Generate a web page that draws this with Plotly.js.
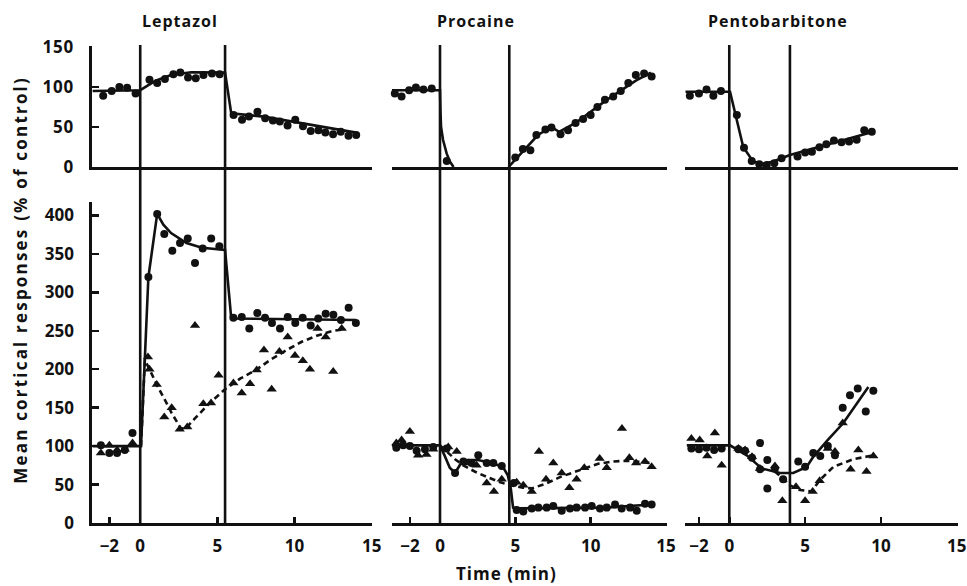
<!DOCTYPE html>
<html><head><meta charset="utf-8">
<script src="https://cdn.plot.ly/plotly-3.0.1.min.js"></script>
<style>
html,body{margin:0;padding:0;background:#fff}
#chart{width:967px;height:586px}
#chart .annotation-text{letter-spacing:1px}
#chart .annotation[data-index="3"] .annotation-text{letter-spacing:2.2px}
#chart .xtick text,#chart .ytick text{letter-spacing:0.8px}
</style>
</head><body><div id="chart"></div>
<script>
// ---------- panel titles & axis labels ----------
const panelTitles = ['Leptazol', 'Procaine', 'Pentobarbitone'];
const xTickVals = [-2, 0, 5, 10, 15];
const xTickText = ['\u22122', '0', '5', '10', '15'];
const yTopTickVals = [0, 50, 100, 150];
const yBotTickVals = [0, 50, 100, 150, 200, 250, 300, 350, 400];
const yTitle = 'Mean cortical responses (% of control)';
const xTitle = 'Time (min)';
const drugStart = [0, 0, 0];
const drugEnd = [5.5, 4.6, 4.0];

// ---------- Leptazol ----------
const leptTopT = [-2.4, -1.85, -1.35, -0.85, -0.3, 0.6, 1.1, 1.6, 2.15, 2.6, 3.1, 3.6, 4.1, 4.65, 5.15, 6.05, 6.6, 7.05, 7.6, 8.1, 8.6, 9.05, 9.55, 10.05, 10.55, 11.05, 11.55, 12.0, 12.5, 13.0, 13.5, 14.0];
const leptTopV = [89, 95, 100, 99, 92, 109, 105, 110, 116, 118, 112, 111, 115, 117, 116, 65, 59, 63, 69, 61, 58, 57, 52, 59, 51, 45, 46, 43, 41, 44, 39, 40];
const leptTopFitT = [-3.1, 0, 1, 2, 3.3, 5.5, 5.9, 8, 14];
const leptTopFitV = [95, 96, 108, 115, 118.5, 118, 67, 63, 43];

const leptBotCircT = [-2.55, -2.0, -1.5, -1.0, -0.5, 0.53, 1.1, 1.56, 2.08, 2.58, 3.08, 3.55, 4.05, 4.6, 5.13, 6.04, 6.58, 7.07, 7.59, 8.09, 8.54, 9.06, 9.56, 10.05, 10.53, 11.05, 11.54, 12.02, 12.52, 13.01, 13.51, 13.98];
const leptBotCircV = [101, 91, 91, 95, 117, 320, 402, 376, 354, 364, 370, 338, 357, 370, 360, 267, 268, 253, 273, 267, 260, 253, 268, 260, 267, 257, 266, 272, 271, 264, 280, 260];
const leptBotTriT = [-2.55, -2.0, -1.5, -1.0, -0.5, 0.5, 0.6, 1.07, 1.56, 2.04, 2.56, 3.05, 3.55, 4.09, 4.59, 5.08, 6.04, 6.58, 7.12, 7.55, 8.02, 8.52, 9.02, 9.56, 10.03, 10.54, 11.0, 11.5, 12.02, 12.51, 13.06];
const leptBotTriV = [91, 101, 95, 96, 104, 216, 200, 180, 138, 150, 122, 125, 257, 155, 156, 192, 182, 169, 181, 199, 225, 174, 223, 242, 218, 211, 200, 253, 242, 197, 253];
const leptBotFitT = [-3.1, 0.05, 0.53, 1.1, 1.5, 2, 3, 4, 5.5, 5.9, 14];
const leptBotFitV = [100, 100, 320, 402, 388, 377, 364, 358, 355, 266, 264];
const leptBotDashT = [0.05, 0.3, 0.6, 1.07, 1.6, 2.04, 2.6, 2.9, 3.5, 4.5, 5.5, 6.5, 7.5, 8.5, 9.5, 10.5, 11.5, 12.5, 13.3];
const leptBotDashV = [100, 212, 200, 180, 160, 143, 124, 122, 135, 156, 174, 188, 199, 213, 225, 236, 244, 250, 252];

// ---------- Procaine ----------
const procTopT = [-3.0, -2.55, -2.05, -1.6, -1.1, -0.55, 0.45, 5.0, 5.5, 6.0, 6.4, 7.0, 7.4, 8.0, 8.5, 9.0, 9.5, 10.0, 10.45, 10.95, 11.5, 12.0, 12.5, 13.0, 13.55, 14.05];
const procTopV = [92, 88, 96, 99.5, 97, 98, 7.5, 12, 22.5, 21, 40, 47, 49.5, 41, 46, 55, 60, 65, 75, 84, 88, 95, 105, 115, 117, 113];
const procTopFitT = [-3.2, 0, 0.03, 0.07, 0.2, 0.44, 0.65, 0.9, null, 4.55, 5.5, 6.5, 7.4, 7.9, 9, 11, 13, 14];
const procTopFitV = [96, 96, 70, 50, 34, 17, 7, 0, null, 0, 20, 40, 50, 44, 55, 83, 108, 118];

const procBotCircT = [-2.9, -2.45, -2.0, -1.55, -1.0, -0.45, 0.44, 1.0, 1.55, 2.1, 2.54, 3.1, 3.54, 4.1, 4.9, 5.09, 5.53, 6.09, 6.53, 7.08, 7.52, 8.08, 8.63, 9.07, 9.63, 10.07, 10.62, 11.07, 11.62, 12.06, 12.62, 13.06, 13.61, 14.05];
const procBotCircV = [98, 101, 100, 94, 96, 99, 97, 65, 80, 78, 88, 78, 78, 74, 52, 17, 15, 19, 20, 20, 22, 16, 19, 20, 20, 22, 19, 20, 24, 19, 20, 16, 25, 24];
const procBotTriT = [-2.9, -2.55, -2.0, -1.45, -0.9, -0.45, 0.55, 1.11, 1.88, 2.43, 3.1, 3.58, 4.1, 5.09, 5.53, 6.09, 6.57, 7.04, 7.52, 8.08, 8.59, 9.07, 9.58, 10.6, 11.07, 12.08, 12.57, 13.02, 13.61, 14.05];
const procBotTriV = [104, 108, 119, 88, 89, 96, 99, 93, 78, 75, 52, 41, 57, 53, 49, 41, 93, 57, 78, 65, 46, 57, 72, 84, 72, 123, 85, 78, 80, 73];
const procBotFitT = [-3.2, 0, 0.3, 0.65, 1.0, 1.4, 1.8, 2.5, 3.5, 4.2, 4.5, 4.7, 4.85, 5.2, 11, 14.05];
const procBotFitV = [101, 101, 88, 72, 65, 78, 82, 82, 78, 72, 62, 45, 20, 19, 20, 24];
const procBotDashT = [0, 0.5, 1, 1.55, 2.3, 3.1, 4, 4.65, 5.5, 6.1, 7, 8, 9, 9.6, 10.5, 11.5, 12.5, 13.5, 14];
const procBotDashV = [101, 92, 83, 75, 67, 60, 53, 49, 46, 45, 51, 60, 67, 71, 77, 80, 81, 79, 78];

// ---------- Pentobarbitone ----------
const pentTopT = [-2.6, -2.0, -1.5, -1.05, -0.55, 0.5, 0.97, 1.48, 1.98, 2.47, 2.97, 3.45, 4.5, 5.0, 5.45, 5.95, 6.4, 6.9, 7.4, 7.9, 8.4, 8.9, 9.4];
const pentTopV = [89, 92, 97, 89, 95, 65, 24, 7.5, 3.3, 2.5, 4.6, 10.8, 13, 18, 19, 24.6, 28.3, 33, 31, 32, 34, 46, 44];
const pentTopFitT = [-2.9, 0.05, 0.92, 1.58, 2.24, 2.9, 4.0, 9.5];
const pentTopFitV = [94, 94, 25, 6.7, 4, 7, 15, 44];

const pentBotCircT = [-2.5, -2.0, -1.5, -1.0, -0.5, 0.6, 1.04, 1.5, 2.03, 2.03, 2.51, 2.51, 3.01, 3.55, 4.55, 5.0, 5.54, 6.0, 6.5, 6.97, 7.48, 7.96, 8.47, 9.0, 9.5];
const pentBotCircV = [97, 96, 98, 95, 97, 96, 94, 85, 104, 70, 82, 45, 71, 57, 80, 73, 91, 87, 100, 88, 150, 166, 175, 145, 172];
const pentBotTriT = [-2.5, -1.95, -1.45, -0.95, -0.5, 0.6, 1.04, 1.5, 2.02, 3.01, 3.5, 4.4, 5.0, 5.5, 5.96, 6.5, 6.97, 7.48, 8.0, 8.51, 9.05, 9.5];
const pentBotTriV = [110, 108, 87, 117, 75, 97, 95, 86, 71, 74, 29, 47, 29, 41, 55, 97, 93, 130, 70, 95, 67, 87];
const pentBotFitT = [-2.8, 0.05, 1.15, 2.14, 3.35, 4.22, 5.1, 5.54, 6.5, 7.52, 9.17];
const pentBotFitV = [101, 101, 88, 71, 65, 65, 73, 86, 108, 130, 177];
const pentBotDashT = [3.0, 3.6, 4.0, 4.66, 5.43, 5.98, 6.86, 8.18, 9.5];
const pentBotDashV = [67, 57, 49, 43, 41, 56, 73, 83, 88];

// ---------- layout helpers ----------
const W = 967, H = 586;
const INK = '#111';
const FONT = '"Open Sans", Lato, sans-serif';
const px = p => p / W;
const py = p => 1 - p / H;

const colDom = [[px(92.4), px(372.4)], [px(391.8), px(666.7)], [px(685.3), px(957.5)]];
const colRange = [[-3.1, 15.05], [-3.2, 15.05], [-2.9, 15.05]];
const topDom = [py(167), py(46.2)];
const botDom = [py(523), py(201.6)];
const topRange = [0, 151];
const botRange = [0, 418];

const traces = [];
function pts(xa, ya, t, v, sym, size) {
  traces.push({x: t, y: v, xaxis: xa, yaxis: ya, mode: 'markers', type: 'scatter', cliponaxis: false,
    marker: {symbol: sym, size: size, color: INK, line: {width: 0}}, hoverinfo: 'skip'});
}
function ln(xa, ya, t, v, dash, w) {
  traces.push({x: t, y: v, xaxis: xa, yaxis: ya, mode: 'lines', type: 'scatter', cliponaxis: false,
    connectgaps: false, line: {color: INK, width: w || 2.6, dash: dash || 'solid'}, hoverinfo: 'skip'});
}

// top row
ln('x', 'y', leptTopFitT, leptTopFitV);
pts('x', 'y', leptTopT, leptTopV, 'circle', 8);
ln('x2', 'y2', procTopFitT, procTopFitV);
pts('x2', 'y2', procTopT, procTopV, 'circle', 8);
ln('x3', 'y3', pentTopFitT, pentTopFitV);
pts('x3', 'y3', pentTopT, pentTopV, 'circle', 8);
// bottom row
ln('x4', 'y4', leptBotFitT, leptBotFitV);
ln('x4', 'y4', leptBotDashT, leptBotDashV, '6px,4px');
pts('x4', 'y4', leptBotCircT, leptBotCircV, 'circle', 8);
pts('x4', 'y4', leptBotTriT, leptBotTriV, 'triangle-up', 9);
ln('x5', 'y5', procBotFitT, procBotFitV);
ln('x5', 'y5', procBotDashT, procBotDashV, '6px,4px');
pts('x5', 'y5', procBotCircT, procBotCircV, 'circle', 8);
pts('x5', 'y5', procBotTriT, procBotTriV, 'triangle-up', 9);
ln('x6', 'y6', pentBotFitT, pentBotFitV);
ln('x6', 'y6', pentBotDashT, pentBotDashV, '6px,4px');
pts('x6', 'y6', pentBotCircT, pentBotCircV, 'circle', 8);
pts('x6', 'y6', pentBotTriT, pentBotTriV, 'triangle-up', 9);

const tickFont = {family: FONT, size: 17, color: INK, weight: 700};
const layout = {
  width: W, height: H, margin: {l: 0, r: 0, t: 0, b: 0},
  paper_bgcolor: '#fff', plot_bgcolor: 'rgba(0,0,0,0)', showlegend: false,
  shapes: [], annotations: []
};
for (let c = 0; c < 3; c++) {
  const top = c + 1, bot = c + 4;
  const xt = 'xaxis' + (top === 1 ? '' : top), yt = 'yaxis' + (top === 1 ? '' : top);
  const xb = 'xaxis' + bot, yb = 'yaxis' + bot;
  const yTopName = top === 1 ? 'y' : 'y' + top;
  layout[xt] = {domain: colDom[c], range: colRange[c], anchor: yTopName, showline: true, linewidth: 3,
    linecolor: INK, ticks: '', showticklabels: false, showgrid: false, zeroline: false, fixedrange: true};
  layout[xb] = {domain: colDom[c], range: colRange[c], anchor: 'y' + bot, showline: true, linewidth: 3,
    linecolor: INK, ticks: 'inside', ticklen: 6, tickwidth: 2.5, tickcolor: INK,
    tickvals: xTickVals, ticktext: xTickText, tickfont: tickFont, ticklabelstandoff: 6,
    showgrid: false, zeroline: false, fixedrange: true};
  const isLept = c === 0;
  layout[yt] = {domain: topDom, range: topRange, anchor: top === 1 ? 'x' : 'x' + top, showgrid: false, zeroline: false,
    visible: isLept, showline: isLept, linewidth: 3, linecolor: INK, ticks: 'inside', ticklen: 7, tickwidth: 2.5,
    tickcolor: INK, tickvals: yTopTickVals, tickfont: tickFont, ticklabelstandoff: 12, fixedrange: true};
  layout[yb] = {domain: botDom, range: botRange, anchor: 'x' + bot, showgrid: false, zeroline: false,
    visible: isLept, showline: isLept, linewidth: 3, linecolor: INK, ticks: 'inside', ticklen: 7, tickwidth: 2.5,
    tickcolor: INK, tickvals: yBotTickVals, tickfont: tickFont, ticklabelstandoff: 12, fixedrange: true};
  [drugStart[c], drugEnd[c]].forEach(xv => {
    layout.shapes.push({type: 'line', xref: 'x' + bot, yref: 'paper', x0: xv, x1: xv,
      y0: py(523), y1: py(45), line: {color: INK, width: 2.6}});
  });
  layout.annotations.push({text: panelTitles[c], xref: 'paper', yref: 'paper',
    x: [px(180), px(476), px(778)][c], y: py(21), xanchor: 'center', yanchor: 'middle',
    showarrow: false, font: {family: FONT, size: 16, color: INK, weight: 700}});
}
layout.annotations.push({text: yTitle, xref: 'paper', yref: 'paper', x: px(20), y: py(280),
  xanchor: 'center', yanchor: 'middle', textangle: -90, showarrow: false,
  font: {family: FONT, size: 17, color: INK, weight: 700}});
layout.annotations.push({text: xTitle, xref: 'paper', yref: 'paper', x: px(506), y: py(573),
  xanchor: 'center', yanchor: 'middle', showarrow: false,
  font: {family: FONT, size: 17, color: INK, weight: 700}});

Plotly.newPlot('chart', traces, layout, {staticPlot: true, displayModeBar: false});
</script>
</body></html>
